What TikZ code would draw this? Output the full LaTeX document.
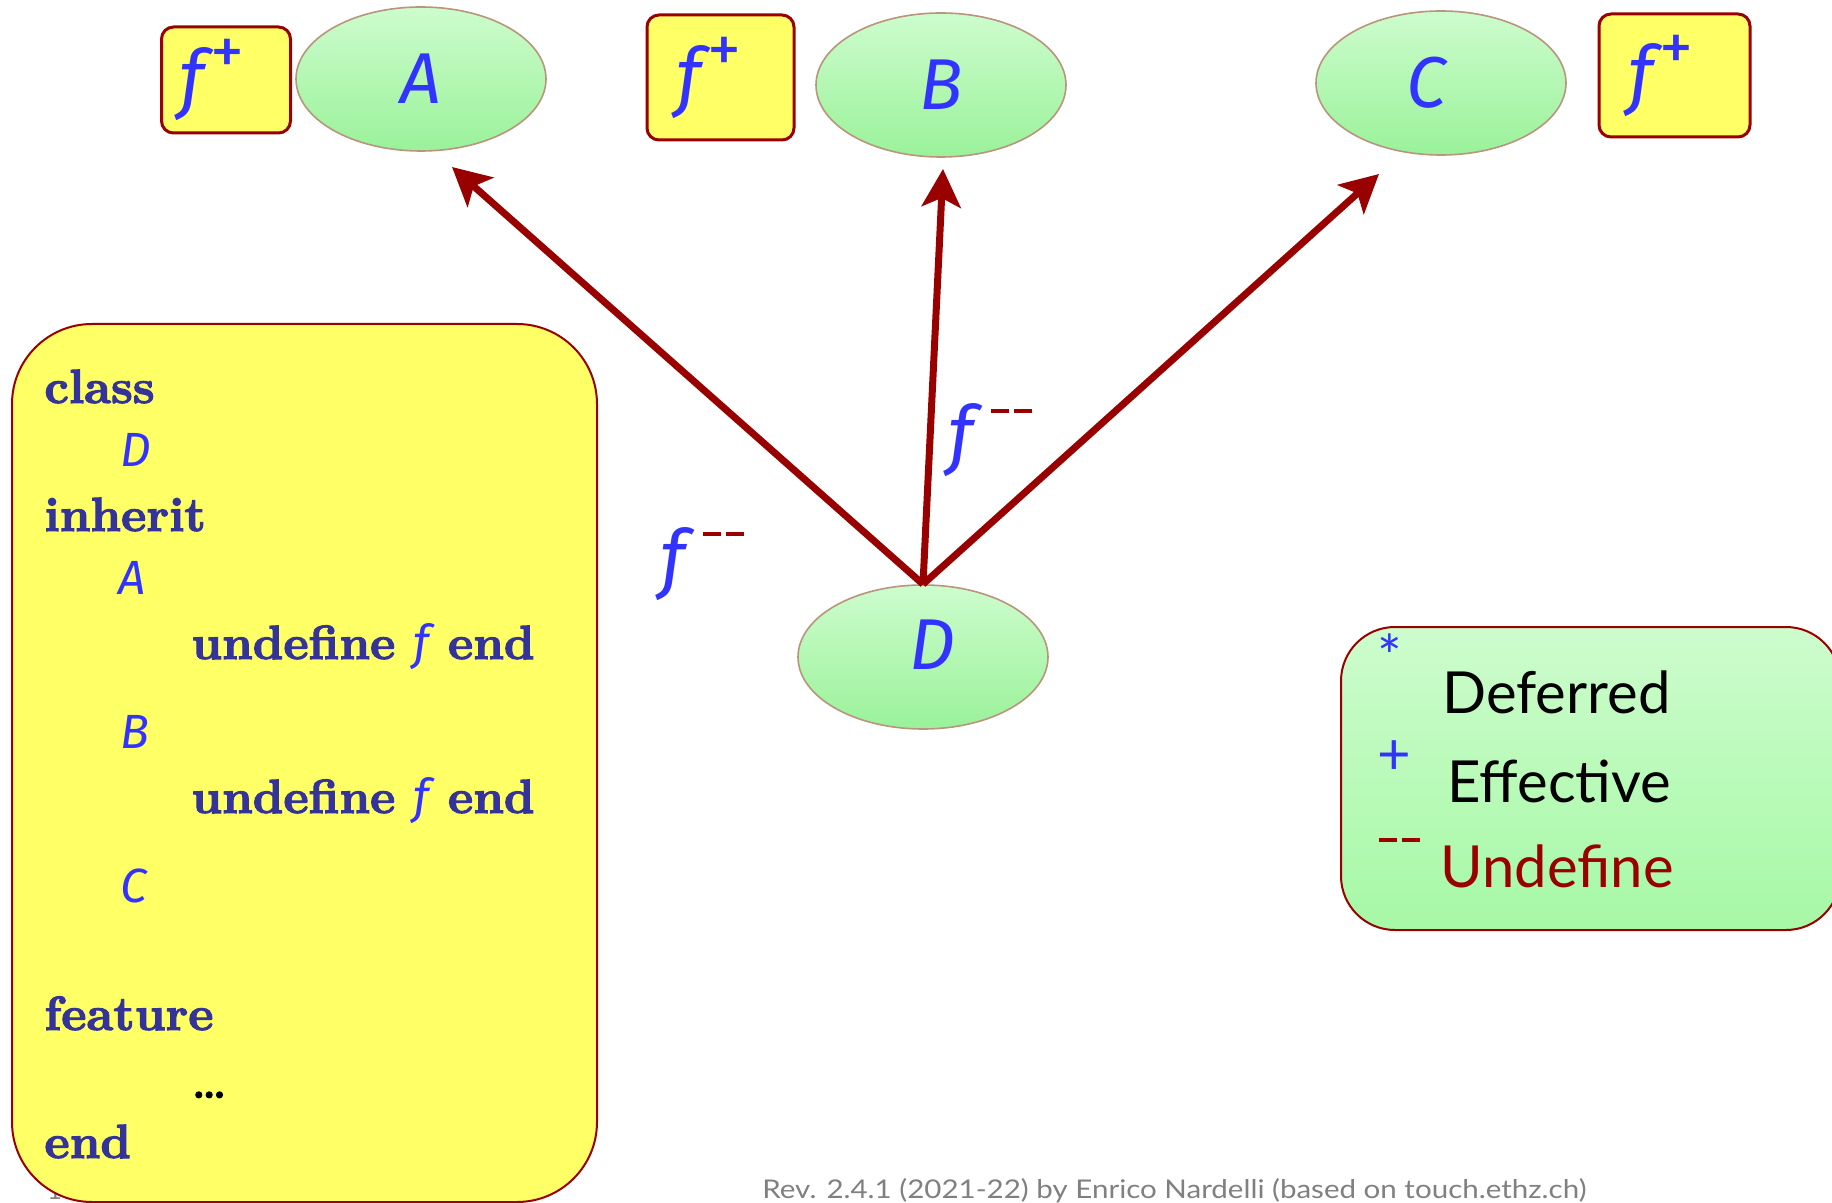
\documentclass[tikz,border=0pt]{standalone}
\usepackage{fontspec}
\usepackage{graphicx}
\newfontfamily\itfam{Fira Sans}
\newfontfamily\lgfam{Lato}
\newfontfamily\codefam{lmroman10-bold.otf}[FakeBold=2.2]
\usetikzlibrary{shapes.geometric,arrows.meta}
\definecolor{blu}{HTML}{3333FF}
\definecolor{navy}{HTML}{333399}
\definecolor{dred}{HTML}{990000}
\definecolor{yel}{HTML}{FFFF66}
\definecolor{grnA}{HTML}{CDFCCD}
\definecolor{grnB}{HTML}{A6F8A6}
\definecolor{grnC}{HTML}{9AF29A}
\definecolor{rim}{HTML}{B8957C}
\definecolor{foot}{HTML}{808080}
\newcommand{\itf}{{\itfam\mdseries\itshape f}}
\newcommand{\bluef}{\textcolor{blu}{\itfam\mdseries\itshape f}}
\newcommand{\dashpair}{\textcolor{dred}{\rule{9pt}{2pt}\hspace{2.5pt}\rule{9pt}{2pt}}}
\newcommand{\fplus}{\itf\hspace{3pt}\raisebox{15pt}{\fontsize{34}{34}\selectfont\itfam\mdseries\upshape +}}
\tikzset{
  cls/.style={ellipse, draw=rim, line width=0.8pt, top color=grnA, middle color=grnB, bottom color=grnC,
    minimum width=125pt, minimum height=72pt, inner sep=0pt, text=blu,
    font=\fontsize{36}{36}\selectfont\itfam\itshape},
  fbox/.style={draw=dred, line width=1.5pt, fill=yel, rounded corners=6pt, inner sep=0pt, text=blu,
    font=\fontsize{38}{38}\selectfont},
  codebox/.style={draw=dred, line width=1pt, fill=yel, rounded corners=40pt, inner sep=0pt,
    minimum width=292.5pt, minimum height=439pt},
  legbox/.style={draw=dred, line width=1pt, top color=grnA, middle color=grnB, bottom color=grnB,
    rounded corners=27pt, inner sep=0pt, minimum width=249.5pt, minimum height=151.5pt},
  kw/.style={anchor=base west, inner sep=0pt, text=navy, font=\fontsize{24}{24}\selectfont\codefam},
  ident/.style={anchor=base west, inner sep=0pt, text=blu, font=\fontsize{24}{24}\selectfont\itfam\itshape},
  lgtxt/.style={anchor=base west, inner sep=0pt, font=\fontsize{29}{29}\selectfont\lgfam},
  lbl/.style={anchor=base west, inner sep=0pt, text=blu, font=\fontsize{38}{38}\selectfont},
  arr/.style={draw=dred, line width=3.5pt, -{Stealth[length=19pt,width=19.5pt,inset=4.5pt]}},
  foottxt/.style={anchor=base west, inner sep=0pt, text=foot, font=\fontsize{12.5}{12.5}\selectfont\lgfam}
}
\begin{document}
\begin{tikzpicture}[x=0.5pt,y=-0.5pt]
\useasboundingbox (0,0) rectangle (1832,1203);
\fill[white] (0,0) rectangle (1832,1203);
% page number (mostly hidden)
\node[foottxt] (pg) at (47,1199) {13};
% code box
\node[codebox] (code) at (304.5,763) {};
\node[kw] (k1) at (44,403) {class};
\node[ident] (i1) at (120,467) {D};
\node[kw] (k2) at (44,531) {inherit};
\node[ident] (i2) at (118,595) {A};
\node[kw] (k3) at (191,659) {undefine \bluef{} end};
\node[ident] (i3) at (120,748) {B};
\node[kw] (k4) at (191,813) {undefine \bluef{} end};
\node[ident] (i4) at (120,902) {C};
\node[kw] (k5) at (44,1030) {feature};
\node[kw, text=black, font=\fontsize{20}{20}\selectfont\codefam] (k6) at (192,1098) {\ldots};
\node[kw] (k7) at (44,1158) {end};
% classes
\node[cls] (A) at (421,79) {A};
\node[cls] (B) at (941,85) {B};
\node[cls] (C) at (1441,83) {C\hspace*{15pt}};
\node[cls] (D) at (923,657) {\hspace*{9pt}\raisebox{12pt}{D}};
% f+ boxes
\node[fbox, minimum width=64.5pt, minimum height=53pt] (fA) at (226,80) {\fplus\hspace*{14pt}};
\node[fbox, minimum width=73.5pt, minimum height=62.5pt] (fB) at (720.5,77.5) {\fplus\hspace*{12pt}};
\node[fbox, minimum width=75.5pt, minimum height=61.5pt] (fC) at (1674.5,75.5) {\fplus\hspace*{14pt}};
% arrows
\coordinate (tA) at (452,167);
\coordinate (tB) at (943,169);
\coordinate (tC) at (1379,174);
\draw[arr] (D.north) -- (tA);
\draw[arr] (D.north) -- (tB);
\draw[arr] (D.north) -- (tC);
% undefine labels
\node[lbl] (u1) at (660,584) {\itf\hspace{9pt}\raisebox{24pt}{\dashpair}};
\node[lbl] (u2) at (948,461) {\itf\hspace{9pt}\raisebox{24pt}{\dashpair}};
% legend
\node[legbox] (leg) at (1590.5,778.5) {};
\node[lgtxt, anchor=center, text=blu] (s1) at (1390,656) {*};
\node[lgtxt] (g1) at (1442,713) {Deferred};
\node[lgtxt, anchor=center, text=blu] (s2) at (1394,758) {+};
\node[lgtxt] (g2) at (1447,802) {Effective};
\node[anchor=west, inner sep=0pt] (s3) at (1379,840) {\dashpair};
\node[lgtxt, text=dred] (g3) at (1440,887) {Undefine};
% footer
\node[foottxt] (rev) at (762,1198) {\resizebox{412pt}{10pt}{Rev. 2.4.1 (2021-22) by Enrico Nardelli (based on touch.ethz.ch)}};
\end{tikzpicture}
\end{document}
